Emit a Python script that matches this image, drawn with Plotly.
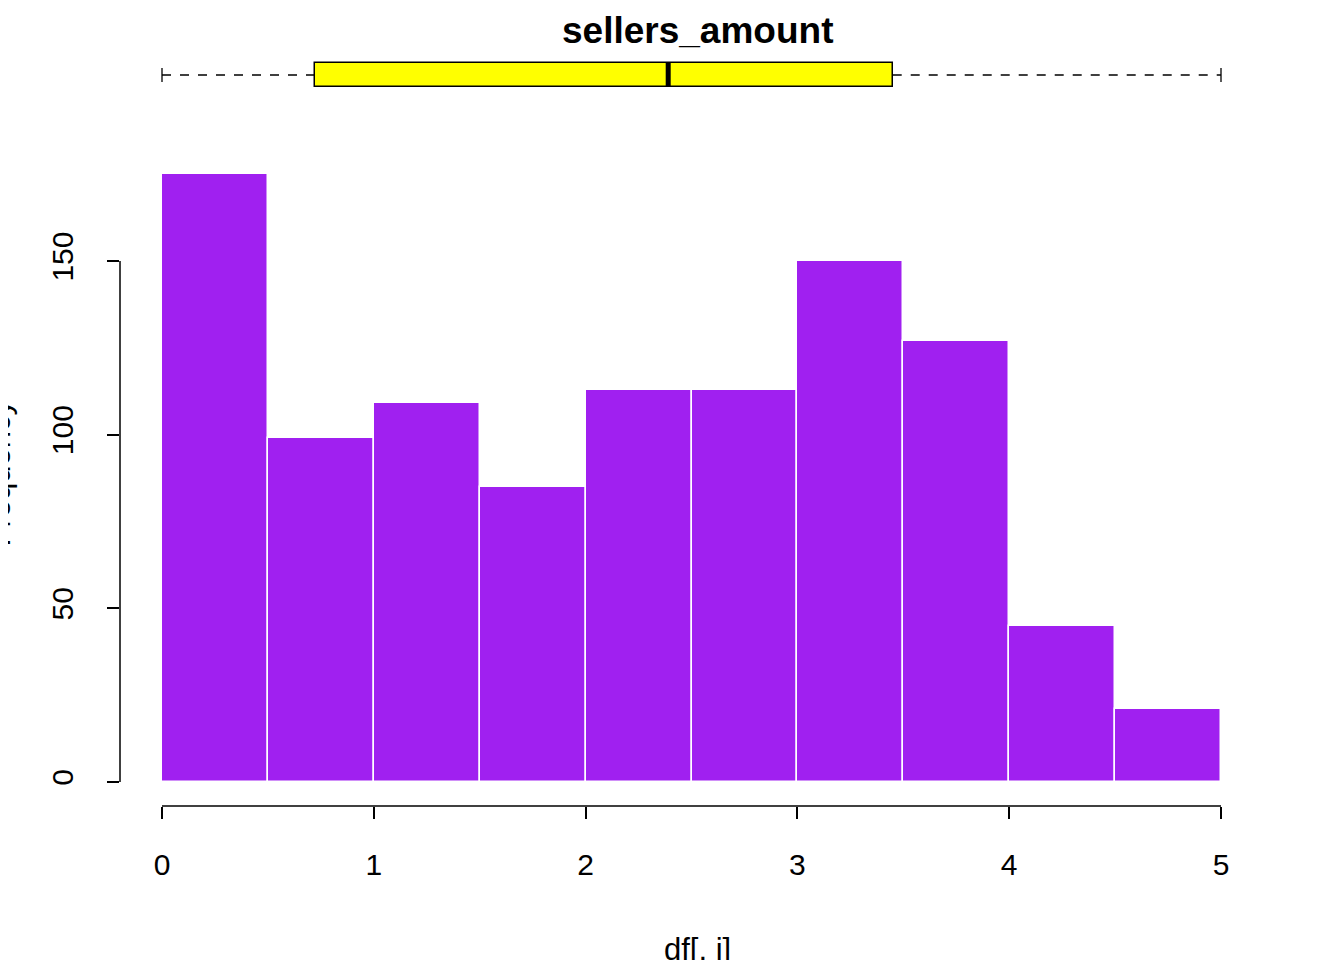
import plotly.graph_objects as go

bin_left = [0.0, 0.5, 1.0, 1.5, 2.0, 2.5, 3.0, 3.5, 4.0, 4.5]
counts = [175, 99, 109, 85, 113, 113, 150, 127, 45, 21]
box_min, box_q1, box_med, box_q3, box_max = 0.0, 0.72, 2.39, 3.45, 5.0
x_ticks = [0, 1, 2, 3, 4, 5]
y_ticks = [0, 50, 100, 150]

W, H = 1344, 960
FONT = "Liberation Sans, Arial, sans-serif"
DX, DY = 7, 7  # correction for observed render offset


def px_x(p):
    return (p - DX) / W


def px_y(p):
    return 1 - (p - DY) / H


fig = go.Figure()

fig.add_trace(go.Bar(
    x=[b + 0.25 for b in bin_left], y=counts, width=0.5,
    marker=dict(color="#A020F0", line=dict(color="white", width=1.5)),
    xaxis="x", yaxis="y", showlegend=False,
))

# boxplot on top
fig.add_trace(go.Scatter(
    x=[box_min, box_q1, None, box_q3, box_max], y=[0, 0, None, 0, 0],
    mode="lines", line=dict(color="black", width=1.3, dash="dash"),
    xaxis="x2", yaxis="y2", showlegend=False,
))
fig.add_trace(go.Scatter(
    x=[box_min, box_max], y=[0, 0], mode="markers",
    marker=dict(symbol="line-ns", size=10, line=dict(color="black", width=1.3)),
    xaxis="x2", yaxis="y2", showlegend=False,
))
fig.add_trace(go.Bar(
    x=[box_q3 - box_q1], base=[box_q1], y=[0], width=1, orientation="h",
    marker=dict(color="yellow", line=dict(color="black", width=1.5)),
    xaxis="x2", yaxis="y2", showlegend=False,
))
fig.add_trace(go.Scatter(
    x=[box_med, box_med], y=[-0.5, 0.5], mode="lines",
    line=dict(color="black", width=5),
    xaxis="x2", yaxis="y2", showlegend=False,
))

xr = [-(161 - 119) / 211.8, 5 + 20 / 211.8]
fig.update_layout(
    width=W, height=H, margin=dict(l=0, r=0, t=0, b=0),
    plot_bgcolor="white", paper_bgcolor="white", bargap=0,
    font=dict(family=FONT, size=30, color="black"),
    xaxis=dict(domain=[px_x(119), px_x(1240)], range=xr, tickvals=x_ticks,
               ticks="outside", ticklen=12, tickwidth=1.5, tickcolor="black",
               ticklabelstandoff=20, tickfont=dict(color="black"),
               showgrid=False, zeroline=False, showline=False),
    yaxis=dict(domain=[px_y(805), px_y(150)],
               range=[-(805 - 781) / 3.473, (781 - 150) / 3.473],
               tickvals=y_ticks, tickangle=-90, ticks="outside", ticklen=12,
               tickwidth=1.5, tickcolor="black", ticklabelstandoff=22,
               tickfont=dict(color="black"),
               showgrid=False, zeroline=False, showline=False),
    xaxis2=dict(domain=[px_x(119), px_x(1240)], range=xr, anchor="y2",
                visible=False),
    yaxis2=dict(domain=[px_y(98), px_y(50)], range=[-1, 1], anchor="x2",
                visible=False),
    shapes=[
        dict(type="line", xref="x", yref="paper", x0=0, x1=5,
             y0=px_y(805), y1=px_y(805), line=dict(color="black", width=1.5)),
        dict(type="line", xref="paper", yref="y", x0=px_x(119), x1=px_x(119),
             y0=0, y1=150, line=dict(color="black", width=1.5)),
    ],
    annotations=[
        dict(text="<b>sellers_amount</b>", x=690 / W, y=1 - 22 / H,
             xref="paper", yref="paper", yanchor="middle", showarrow=False,
             font=dict(size=37)),
        dict(text="df[, i]", x=690 / W, y=1 - 941 / H, xref="paper",
             yref="paper", yanchor="middle", showarrow=False,
             font=dict(size=31)),
        dict(text="Frequency", x=10 / W, y=1 - 465 / H, xref="paper",
             yref="paper", xanchor="right", yanchor="middle",
             showarrow=False, textangle=-90, font=dict(size=31)),
    ],
)

fig.write_html("out.html")
